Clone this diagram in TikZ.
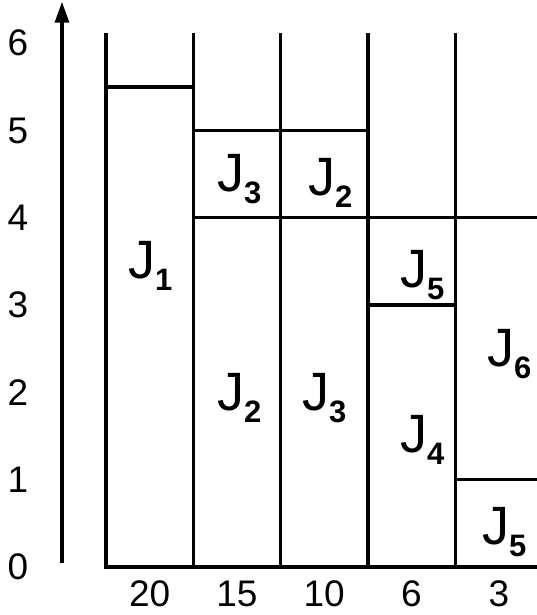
\documentclass[tikz,border=0pt]{standalone}
\usepackage{fontspec}
\setmainfont{Liberation Sans}
\usetikzlibrary{arrows.meta}

\newcommand{\jobtag}[1]{\fontsize{54}{54}\selectfont J\raisebox{-12pt}{\fontsize{31}{31}\selectfont\bfseries #1}}

\begin{document}
\begin{tikzpicture}[
  x=87.3pt, y=87.3pt,
  chartline/.style={line width=3.3pt, line cap=rect},
  axis/.style={line width=3.3pt, -{Triangle[length=21pt, width=14pt]}},
  tick/.style={font=\fontsize{37}{37}\selectfont, inner sep=0pt},
  joblabel/.style={anchor=base west, inner sep=0pt}
]
  \useasboundingbox (-1.214,-0.55) rectangle (4.937,6.495);

  % time axis
  \coordinate (ybot) at (-0.504,0.04);
  \coordinate (ytop) at (-0.504,6.475);
  \draw[axis] (ybot) -- (ytop);
  \foreach \t in {0,...,6}
    \node[tick] (t\t) at (-1.01,\t) {\t};

  % machines
  \foreach \m in {0,...,4}
    \draw[chartline] (\m,0) -- (\m,6.094);
  \draw[chartline] (0,0) -- (4.937,0);
  \foreach \m/\w in {0/20, 1/15, 2/10, 3/6, 4/3}
    \node[tick] (w\w) at (\m+0.5,-0.31) {\w};

  % job ends
  \draw[chartline] (0,5.5) -- (1,5.5);
  \draw[chartline] (1,5) -- (3,5);
  \draw[chartline] (1,4) -- (4.937,4);
  \draw[chartline] (3,3) -- (4,3);
  \draw[chartline] (4,1) -- (4.937,1);

  \node[joblabel] (j1)  at (0.252,3.31)  {\jobtag{1}};
  \node[joblabel] (j3a) at (1.271,4.296) {\jobtag{3}};
  \node[joblabel] (j2a) at (2.314,4.261) {\jobtag{2}};
  \node[joblabel] (j5a) at (3.368,3.196) {\jobtag{5}};
  \node[joblabel] (j6)  at (4.364,2.291) {\jobtag{6}};
  \node[joblabel] (j2b) at (1.271,1.798) {\jobtag{2}};
  \node[joblabel] (j3b) at (2.245,1.798) {\jobtag{3}};
  \node[joblabel] (j4)  at (3.368,1.306) {\jobtag{4}};
  \node[joblabel] (j5b) at (4.307,0.252) {\jobtag{5}};
\end{tikzpicture}
\end{document}
